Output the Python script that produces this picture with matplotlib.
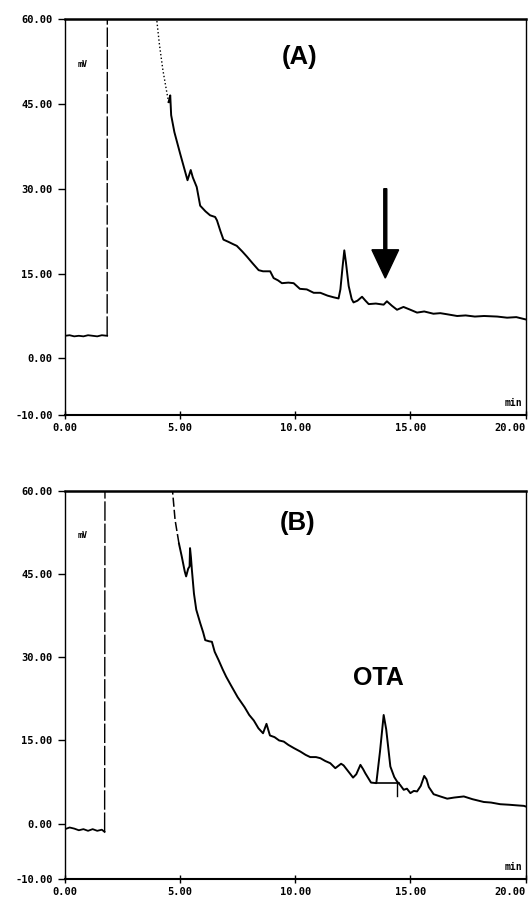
import matplotlib
matplotlib.use("Agg")
import matplotlib.pyplot as plt

# chromatogram (A), min / mV
time_a = [0.0, 0.2, 0.4, 0.6, 0.8, 1.0, 1.2, 1.4, 1.6, 1.83, 1.84, 3.95,
          3.98, 4.1, 4.25, 4.4, 4.5, 4.57, 4.61, 4.75, 5.0, 5.15, 5.32, 5.46,
          5.55, 5.72, 5.87, 6.1, 6.3, 6.52, 6.6, 6.75, 6.88, 7.1, 7.3, 7.46,
          7.7, 7.9, 8.15, 8.41, 8.6, 8.91, 9.06, 9.25, 9.42, 9.7, 9.93, 10.2,
          10.5, 10.8, 11.09, 11.4, 11.67, 11.88, 11.96, 12.05, 12.13, 12.2,
          12.32, 12.45, 12.53, 12.7, 12.9, 13.05, 13.19, 13.5, 13.84, 13.98,
          14.2, 14.42, 14.7, 15.0, 15.29, 15.6, 16.0, 16.3, 16.6, 17.03, 17.4,
          17.8, 18.2, 18.77, 19.2, 19.6, 20.0]
signal_a = [4.0, 4.1, 3.9, 4.0, 3.9, 4.1, 4.0, 3.9, 4.1, 4.0, 80, 80,
            60, 55.5, 51, 47.5, 45.3, 46.5, 43, 40, 36.2, 34, 31.5, 33.3,
            32, 30.3, 27, 26, 25.3, 25, 24.4, 22.5, 21, 20.6, 20.2, 19.9,
            18.9, 18.0, 16.8, 15.6, 15.4, 15.4, 14.2, 13.8, 13.3, 13.4, 13.3, 12.3,
            12.2, 11.6, 11.6, 11.1, 10.8, 10.6, 12.2, 16, 19.1, 17,
            12.8, 10.5, 9.9, 10.2, 10.9, 10.2, 9.6, 9.7, 9.5, 10.1,
            9.3, 8.6, 9.1, 8.6, 8.1, 8.3, 7.9, 8.0, 7.8, 7.5, 7.6,
            7.4, 7.5, 7.4, 7.2, 7.3, 6.9]

# chromatogram (B)
time_b = [0.0, 0.2, 0.4, 0.6, 0.8, 1.0, 1.2, 1.4, 1.6, 1.72, 1.74, 4.6,
          4.67, 4.78, 4.95, 5.07, 5.2, 5.26, 5.35, 5.41, 5.43, 5.47, 5.51,
          5.6, 5.7, 5.87, 6.0, 6.09, 6.25, 6.38, 6.5, 6.67, 6.85, 7.0, 7.2,
          7.5, 7.8, 8.0, 8.2, 8.4, 8.6, 8.75, 8.9, 9.1, 9.3, 9.5, 9.7, 9.95,
          10.22, 10.45, 10.65, 10.9, 11.09, 11.3, 11.52, 11.74, 11.99, 12.1,
          12.25, 12.4, 12.51, 12.65, 12.83, 12.95, 13.04, 13.29, 13.52, 13.68,
          13.84, 13.95, 14.13, 14.3, 14.42, 14.55, 14.71, 14.85, 15.0, 15.15,
          15.29, 15.45, 15.6, 15.7, 15.8, 16.01, 16.3, 16.6, 16.9, 17.32,
          17.7, 18.19, 18.5, 18.9, 19.3, 19.6, 19.93, 20.0]
signal_b = [-1.0, -0.7, -0.9, -1.2, -1.0, -1.3, -1.0, -1.3, -1.1, -1.5, 80, 80,
            60, 54.8, 50.5, 48.2, 45.5, 44.6, 46.0, 46.4, 49.7, 48, 45.8,
            41.5, 38.6, 36.2, 34.5, 33.1, 32.9, 32.8, 31, 29.5, 27.8, 26.5, 25,
            22.8, 21.0, 19.6, 18.6, 17.2, 16.3, 18.0, 15.9, 15.6, 15.0, 14.8, 14.2, 13.6,
            13.0, 12.4, 12.0, 12.0, 11.8, 11.3, 10.9, 10.0, 10.8, 10.5,
            9.7, 8.9, 8.3, 8.9, 10.6, 9.8, 9.1, 7.4, 7.3, 13.0,
            19.6, 17, 10.3, 8.4, 7.6, 7.0, 6.1, 6.3, 5.5, 5.9,
            5.8, 6.8, 8.6, 8.0, 6.6, 5.3, 4.9, 4.5, 4.7, 4.9,
            4.4, 3.9, 3.8, 3.5, 3.4, 3.3, 3.2, 3.1]

# integration baseline under the OTA peak and its end marker
ota_base_t = [13.52, 14.49]
ota_base_v = [7.3, 7.3]
ota_mark_t = [14.42, 14.42]
ota_mark_v = [7.3, 4.9]

yticks = [60, 45, 30, 15, 0, -10]
ytick_labels = ["60.00", "45.00", "30.00", "15.00", "0.00", "-10.00"]
xticks = [0, 5, 10, 15, 20]
xtick_labels = ["0.00", "5.00", "10.00", "15.00", "20.00"]

mono = {"family": "DejaVu Sans Mono", "weight": "bold"}
broken = (0, (14, 2))

fig = plt.figure(figsize=(5.29, 9.0), dpi=100)
ax_a = fig.add_axes([0.1229, 0.5389, 0.8705, 0.44])
ax_b = fig.add_axes([0.1229, 0.0233, 0.8705, 0.4311])


def setup(ax):
    ax.set_xlim(0, 20)
    ax.set_ylim(-10, 60)
    ax.set_yticks(yticks)
    ax.set_yticklabels(ytick_labels, fontdict=mono, fontsize=7.5)
    ax.set_xticks(xticks)
    ax.set_xticklabels(xtick_labels, fontdict=mono, fontsize=7.5)
    ax.get_xticklabels()[-1].set_ha("right")
    ax.tick_params(axis="y", direction="out", length=5, width=1, pad=4)
    ax.tick_params(axis="x", direction="inout", length=6, width=1, pad=3)
    ax.spines["top"].set_linewidth(1.8)
    ax.spines["bottom"].set_linewidth(1.5)
    ax.spines["left"].set_linewidth(1.0)
    ax.spines["right"].set_linewidth(1.0)
    ax.text(0.55, 52, "mV", fontdict=mono, fontsize=6, ha="left", va="center")
    ax.text(20 - 0.15, -7.8, "min", fontdict=mono, fontsize=7, ha="right", va="center")


# (A)
setup(ax_a)
ax_a.plot(time_a[:10], signal_a[:10], color="black", lw=1.3)
ax_a.plot(time_a[9:11], signal_a[9:11], color="black", lw=1.0, ls=broken)
ax_a.plot(time_a[10:17], signal_a[10:17], color="black", lw=1.0, ls=":")
ax_a.plot(time_a[16:], signal_a[16:], color="black", lw=1.4)
ax_a.arrow(13.91, 30.0, 0, -15.8, width=0.13, head_width=1.16, head_length=5.0,
           length_includes_head=True, color="black")
ax_a.text(10.2, 53.3, "(A)", family="Liberation Sans", weight="bold",
          fontsize=18.5, ha="center", va="center")

# (B)
setup(ax_b)
ax_b.plot(time_b[:10], signal_b[:10], color="black", lw=1.3)
ax_b.plot(time_b[9:11], signal_b[9:11], color="black", lw=1.0, ls=broken)
ax_b.plot(time_b[10:15], signal_b[10:15], color="black", lw=1.1, ls=(0, (6, 2)))
ax_b.plot(time_b[14:], signal_b[14:], color="black", lw=1.4)
ax_b.plot(ota_base_t, ota_base_v, color="black", lw=1.2)
ax_b.plot(ota_mark_t, ota_mark_v, color="black", lw=1.0)
ax_b.text(10.1, 54.3, "(B)", family="Liberation Sans", weight="bold",
          fontsize=18.5, ha="center", va="center")
ax_b.text(13.63, 26.2, "OTA", family="Liberation Sans", weight="bold",
          fontsize=18, ha="center", va="center")

fig.savefig("out.png", dpi=100)
